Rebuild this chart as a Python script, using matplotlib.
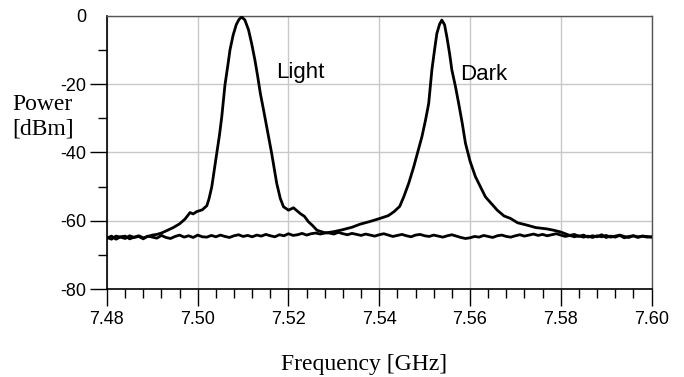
import matplotlib.pyplot as plt
import numpy as np
from matplotlib.ticker import MultipleLocator

# Light curve: noisy floor, resonance near 7.510 GHz, noisy floor
light_left_f = (7.480, 7.490)
light_left_p = [-65.1, -64.5, -65.4, -64.7, -64.5, -65.3, -64.8, -64.4, -65.0, -64.6, -64.2]
light_peak_f = [7.491, 7.492, 7.493, 7.4946, 7.496, 7.4972, 7.4983, 7.4990, 7.4998, 7.501,
                7.502, 7.5025, 7.5031, 7.5036, 7.5042, 7.5048, 7.5053, 7.506, 7.5066, 7.5071,
                7.5078, 7.5085, 7.5091, 7.5097, 7.5104, 7.5112, 7.5119, 7.5126, 7.5132, 7.5138,
                7.5145, 7.5152, 7.5163, 7.5169, 7.5174, 7.5182, 7.5189, 7.520, 7.5211, 7.5218,
                7.5226, 7.5235, 7.5244, 7.5253, 7.5263, 7.528]
light_peak_p = [-64.0, -63.6, -63.0, -62.0, -60.9, -59.5, -57.6, -58.0, -57.3, -56.8,
                -55.6, -53.5, -50.0, -45.5, -40.3, -34.8, -29.5, -20.2, -14.8, -10.0,
                -5.6, -2.5, -1.0, -0.3, -1.2, -4.1, -8.2, -12.9, -17.6, -22.7,
                -27.5, -32.5, -40.3, -45.0, -49.0, -53.5, -55.9, -56.9, -56.2, -57.0,
                -57.9, -58.7, -60.3, -61.4, -62.8, -63.5]
light_right_f = (7.529, 7.600)
light_right_p = [-63.6, -63.9, -63.4, -63.8, -64.1, -63.7, -64.0, -64.3, -63.9, -64.2,
                 -64.5, -64.1, -63.8, -64.2, -64.6, -64.3, -64.0, -64.4, -64.7, -64.2,
                 -64.0, -64.4, -64.6, -64.2, -64.5, -64.8, -64.4, -64.1, -64.5, -64.9,
                 -65.2, -65.0, -64.6, -64.8, -64.3, -64.6, -64.9, -64.4, -64.2, -64.6,
                 -64.8, -64.4, -64.1, -64.5, -64.2, -63.9, -64.3, -64.0, -64.4, -64.1,
                 -63.8, -64.2, -64.6, -64.3, -64.7, -64.4, -64.8, -64.5, -64.9, -64.4,
                 -64.7, -64.3, -64.8, -64.5, -64.2, -64.6, -64.9, -64.4, -64.7, -64.5, -64.6, -64.8]

# Dark curve: noisy floor, resonance near 7.554 GHz, noisy floor
dark_left_f = (7.480, 7.527)
dark_left_p = [-64.9, -65.4, -64.5, -64.8, -65.2, -64.4, -64.9, -64.6, -65.3, -64.5,
               -64.8, -65.1, -64.3, -64.9, -65.2, -64.6, -64.2, -64.8, -64.4, -64.9,
               -64.2, -64.7, -64.8, -64.3, -64.7, -64.2, -64.6, -64.9, -64.4, -64.1,
               -64.6, -64.3, -64.7, -64.2, -64.5, -64.0, -64.4, -64.7, -64.1, -64.4,
               -63.8, -64.3, -64.1, -63.7, -64.2, -63.8, -63.6, -63.9]
dark_peak_f = [7.528, 7.530, 7.532, 7.534, 7.5358, 7.538, 7.5402, 7.542, 7.5432, 7.5445,
               7.5454, 7.5465, 7.5476, 7.5485, 7.5494, 7.5502, 7.5509, 7.5516, 7.5522, 7.5527,
               7.5533, 7.5538, 7.5544, 7.5549, 7.5555, 7.556, 7.5568, 7.5575, 7.5583, 7.559,
               7.5600, 7.5612, 7.5634, 7.566, 7.5675, 7.5689, 7.5705, 7.5726, 7.5745,
               7.577, 7.5785, 7.580]
dark_peak_p = [-63.6, -63.2, -62.6, -61.9, -61.0, -60.2, -59.3, -58.5, -57.4, -55.8,
               -53.0, -49.0, -44.2, -39.8, -35.4, -30.5, -25.6, -15.8, -9.8, -5.1,
               -2.4, -1.2, -2.6, -6.1, -11.0, -15.8, -20.7, -25.6, -31.5, -37.3,
               -42.5, -47.1, -53.0, -56.9, -58.6, -59.3, -60.6, -61.3, -62.0,
               -62.4, -62.8, -63.3]
dark_right_f = (7.581, 7.600)
dark_right_p = [-63.8, -64.3, -64.0, -64.6, -64.2, -64.8, -64.4, -64.7, -64.1, -64.9,
                -64.5, -64.8, -64.3, -65.0, -64.6, -64.4, -64.9, -64.5, -64.8, -64.7]

x_ticks = [7.48, 7.50, 7.52, 7.54, 7.56, 7.58, 7.60]
y_ticks = [-80, -60, -40, -20, 0]


def join(left_f, left_p, peak_f, peak_p, right_f, right_p):
    f = np.concatenate([np.linspace(*left_f, len(left_p)), peak_f,
                        np.linspace(*right_f, len(right_p))])
    p = np.concatenate([left_p, peak_p, right_p])
    return f, p


light_f, light_p = join(light_left_f, light_left_p, light_peak_f, light_peak_p,
                        light_right_f, light_right_p)
dark_f, dark_p = join(dark_left_f, dark_left_p, dark_peak_f, dark_peak_p,
                      dark_right_f, dark_right_p)

plt.rcParams['font.family'] = ['Liberation Sans', 'DejaVu Sans']
fig = plt.figure(figsize=(6.84, 3.77), dpi=100)
ax = fig.add_axes([0.1564, 0.2334, 0.7961, 0.7242])

ax.plot(light_f, light_p, c='black', lw=2, zorder=3)
ax.plot(dark_f, dark_p, c='black', lw=2, zorder=3)

ax.set_xlim(7.48, 7.60)
ax.set_ylim(-80, 0)
ax.set_xticks(x_ticks)
ax.set_xticklabels([f"{v:.2f}" for v in x_ticks])
ax.set_yticks(y_ticks)
ax.set_yticklabels([str(v) for v in y_ticks])
ax.xaxis.set_minor_locator(MultipleLocator(0.004))
ax.yaxis.set_minor_locator(MultipleLocator(10))
ax.tick_params(which='major', length=12, width=1, labelsize=13, color='black')
ax.tick_params(axis='y', which='major', pad=3)
ax.tick_params(axis='x', which='major', pad=4)
ax.tick_params(which='minor', length=6.5, width=1, color='black')
ax.yaxis.get_major_ticks()[-1].tick1line.set_visible(False)
ax.grid(True, which='major', color='#c8c8c8', lw=1)
ax.set_axisbelow(True)

for side in ['left', 'bottom']:
    ax.spines[side].set_color('black')
    ax.spines[side].set_linewidth(1.2)
for side in ['top', 'right']:
    ax.spines[side].set_color('#555555')
    ax.spines[side].set_linewidth(1)

ax.text(7.5173, -18.2, "Light", fontsize=16, va='baseline', ha='left')
ax.text(7.5579, -18.8, "Dark", fontsize=16, va='baseline', ha='left')

serif = ['Liberation Serif', 'DejaVu Serif']
fig.text(12 / 684, 1 - 110 / 377, "Power", family=serif, fontsize=17, va='baseline', ha='left')
fig.text(12 / 684, 1 - 135 / 377, "[dBm]", family=serif, fontsize=17, va='baseline', ha='left')
fig.text(364.5 / 684, 1 - 370 / 377, "Frequency [GHz]", family=serif, fontsize=17,
         va='baseline', ha='center')

fig.savefig("out.png", dpi=100)
